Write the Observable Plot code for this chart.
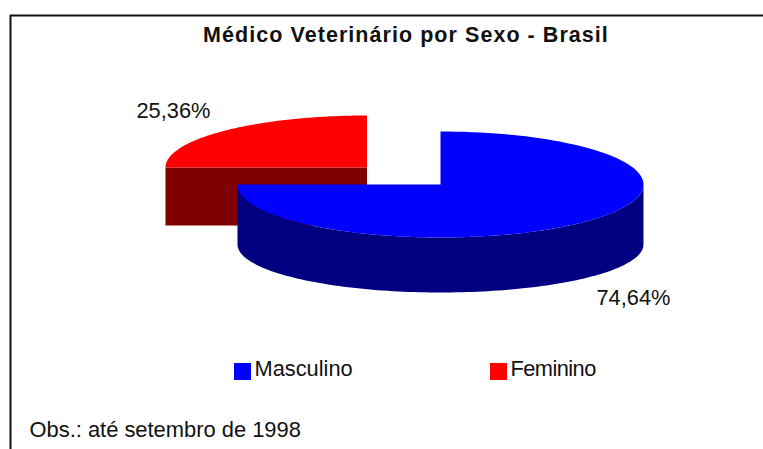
<!DOCTYPE html>
<html>
<head>
<meta charset="utf-8">
<style>
html,body{margin:0;padding:0;background:#fff;overflow:hidden}
svg{display:block}
.chart-title{letter-spacing:1.05px}
.tight-label{letter-spacing:-0.55px}
</style>
<script src="https://cdn.jsdelivr.net/npm/d3@7"></script>
<script src="https://cdn.jsdelivr.net/npm/@observablehq/plot@0.6"></script>
</head>
<body>
<script>
const categories = ["Masculino", "Feminino"];
const shares = [74.64, 25.36];
const shareLabels = ["74,64%", "25,36%"];
const topColors = ["#0000ff", "#ff0000"];
const sideColors = ["#000080", "#800000"];
const chartTitle = "Médico Veterinário por Sexo - Brasil";
const note = "Obs.: até setembro de 1998";

// The pie is drawn in a page-sized coordinate system; the wedge sweeps follow the shares.
const blueDisc = {cx: 440, cy: 184, rx: 203, ry: 53, drop: 60, lowerRy: 48};
const redDisc = {cx: 366.5, cy: 167, rx: 201.5, ry: 52, drop: 58, lowerRy: 52};

// The original renderer snaps slice boundaries to a coarse angular step.
const boundary = Math.round(shares[0] * 3.6 / 5) * 5;
const arc = (d, a0, a1, ry, dy = 0) => d3.range(0, 121).map(i => {
  const t = (a0 + (a1 - a0) * i / 120) * Math.PI / 180;
  return {x: d.cx + d.rx * Math.sin(t), y: d.cy + dy - ry * Math.cos(t)};
});
const topFace = (d, a0, a1) => [...arc(d, a0, a1, d.ry), {x: d.cx, y: d.cy}];
const band = (d, a0, a1) => [...arc(d, a0, a1, d.ry), ...arc(d, a0, a1, d.lowerRy, d.drop).reverse()];

const poly = (pts, fill) => Plot.line([...pts, pts[0]], {x: "x", y: "y", fill, stroke: "none", curve: "linear"});

const textStyle = {fontFamily: "'Liberation Sans', Arial, sans-serif", fill: "#111", lineAnchor: "bottom", fontSize: 21.8};

const chart = Plot.plot({
  width: 763, height: 449,
  marginTop: 0, marginRight: 0, marginBottom: 0, marginLeft: 0,
  x: {domain: [0, 763], range: [0, 763], axis: null},
  y: {domain: [0, 449], range: [0, 449], axis: null},
  style: {background: "#fff"},
  marks: [
    // frame
    Plot.ruleY([15], {x1: 10, x2: 763, stroke: "#111", strokeWidth: 2}),
    Plot.ruleX([10], {y1: 15, y2: 449, stroke: "#111", strokeWidth: 2}),
    // red slice: cut face then top
    poly([{x: redDisc.cx, y: redDisc.cy}, arc(redDisc, boundary, boundary, 0)[0],
          {x: redDisc.cx - redDisc.rx, y: redDisc.cy + redDisc.drop}, {x: redDisc.cx, y: redDisc.cy + redDisc.drop}], sideColors[1]),
    poly(topFace(redDisc, boundary, 360), topColors[1]),
    // blue slice: rim then top
    poly(band(blueDisc, 90, boundary), sideColors[0]),
    poly(topFace(blueDisc, 0, boundary), topColors[0]),
    // value labels
    Plot.text([shareLabels[1]], {x: 136, y: 117.5, text: d => d, textAnchor: "start", ...textStyle}),
    Plot.text([shareLabels[0]], {x: 596, y: 304.5, text: d => d, textAnchor: "start", ...textStyle}),
    // legend
    Plot.rect(categories, {x1: (d, i) => [234, 490][i], x2: (d, i) => [251, 507][i], y1: 363, y2: 380, fill: (d, i) => topColors[i]}),
    Plot.text([categories[0]], {x: 254, y: 375, text: d => d, textAnchor: "start", ...textStyle}),
    Plot.text([categories[1]], {x: 510, y: 375, text: d => d, textAnchor: "start", ...textStyle, className: "tight-label"}),
    // title and note
    Plot.text([chartTitle], {x: 405.5, y: 41.5, text: d => d, textAnchor: "middle", ...textStyle, fontWeight: "bold", fontSize: 21.5, className: "chart-title"}),
    Plot.text([note], {x: 29, y: 436, text: d => d, textAnchor: "start", ...textStyle, fontSize: 21.9})
  ]
});
document.body.appendChild(chart);
</script>
</body>
</html>
